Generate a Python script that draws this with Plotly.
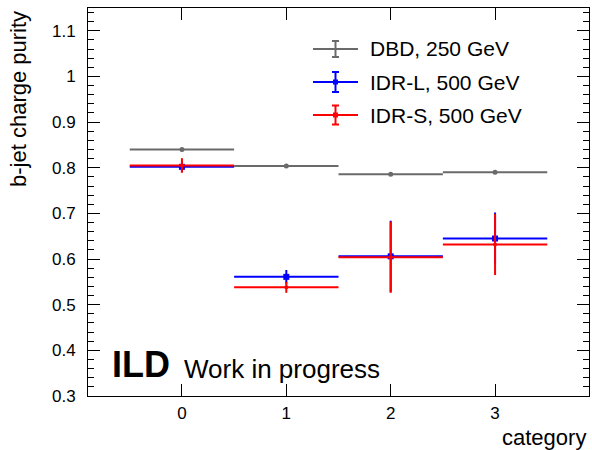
import plotly.graph_objects as go

# ---- data ----
categories = [0, 1, 2, 3]
bin_half_width = [0.5, 0.5, 0.5, 0.5]

dbd_250 = [0.840, 0.804, 0.786, 0.790]
dbd_250_err = [0.002, 0.002, 0.002, 0.002]

idrl_500 = [0.802, 0.561, 0.606, 0.645]
idrl_500_err = [0.011, 0.015, 0.078, 0.057]

idrs_500 = [0.805, 0.538, 0.604, 0.632]
idrs_500_err = [0.016, 0.012, 0.078, 0.067]

y_ticks = [0.3, 0.4, 0.5, 0.6, 0.7, 0.8, 0.9, 1.0, 1.1]
y_tick_labels = ["0.3", "0.4", "0.5", "0.6", "0.7", "0.8", "0.9", "1", "1.1"]
x_ticks = [0, 1, 2, 3]

series = [
    ("DBD, 250 GeV", dbd_250, dbd_250_err, "#6a6a6a", "circle", 5),
    ("IDR-L, 500 GeV", idrl_500, idrl_500_err, "#0000ff", "square", 6),
    ("IDR-S, 500 GeV", idrs_500, idrs_500_err, "#ff0000", "circle", 4),
]

W, H = 592, 450
L, R, T, B = 88, 589, 8, 396


def px(x):
    return (x - L) / (R - L)


def py(y):
    return (B - y) / (B - T)


fig = go.Figure()
for name, vals, errs, col, sym, ms in series:
    fig.add_trace(go.Scatter(
        x=categories, y=vals, mode="markers", name=name,
        marker=dict(color=col, symbol=sym, size=ms),
        error_x=dict(type="data", array=bin_half_width, color=col, thickness=2, width=0),
        error_y=dict(type="data", array=errs, color=col, thickness=2, width=0),
        showlegend=False,
    ))

# ---- custom legend (ROOT style glyphs) ----
shapes = []
annotations = []
rows = [49, 82, 115]
bar_half = [8, 10, 9.5]
for (name, vals, errs, col, sym, ms), ry, bh in zip(series, rows, bar_half):
    shapes.append(dict(type="line", xref="paper", yref="paper",
                       x0=px(313), x1=px(358), y0=py(ry), y1=py(ry),
                       line=dict(color=col, width=2)))
    shapes.append(dict(type="line", xref="paper", yref="paper",
                       x0=px(335.5), x1=px(335.5), y0=py(ry - bh), y1=py(ry + bh),
                       line=dict(color=col, width=2)))
    for cy in (ry - bh, ry + bh):
        shapes.append(dict(type="line", xref="paper", yref="paper",
                           x0=px(332), x1=px(339), y0=py(cy), y1=py(cy),
                           line=dict(color=col, width=2)))
    if name != "DBD, 250 GeV":
        s = 2.5
        shapes.append(dict(type="rect", xref="paper", yref="paper",
                           x0=px(335.5 - s), x1=px(335.5 + s), y0=py(ry - s), y1=py(ry + s),
                           fillcolor=col, line=dict(width=0)))
    annotations.append(dict(text=name, xref="paper", yref="paper",
                            x=px(368), y=py(ry), xanchor="left", yanchor="middle",
                            showarrow=False,
                            font=dict(family="Liberation Sans, Arial", size=21, color="black")))

annotations.append(dict(text="<b>ILD</b>", xref="paper", yref="paper",
                        x=px(110), y=py(364), xanchor="left", yanchor="middle",
                        showarrow=False,
                        font=dict(family="Liberation Sans, Arial", size=36, color="black")))
annotations.append(dict(text="Work in progress", xref="paper", yref="paper",
                        x=px(182), y=py(369), xanchor="left", yanchor="middle",
                        showarrow=False,
                        font=dict(family="Liberation Sans, Arial", size=26, color="black")))
annotations.append(dict(text="b-jet charge purity", xref="paper", yref="paper",
                        x=px(18), y=py(9), xanchor="center", yanchor="top", textangle=-90,
                        showarrow=False,
                        font=dict(family="Liberation Sans, Arial", size=22, color="black")))
annotations.append(dict(text="category", xref="paper", yref="paper",
                        x=px(588), y=py(437), xanchor="right", yanchor="middle",
                        showarrow=False,
                        font=dict(family="Liberation Sans, Arial", size=22, color="black")))

axis_common = dict(showline=True, linecolor="black", linewidth=1, mirror="ticks",
                   ticks="inside", tickcolor="black", showgrid=False, zeroline=False,
                   tickfont=dict(family="Liberation Sans, Arial", size=17, color="black"))

fig.update_layout(
    width=W, height=H,
    margin=dict(l=L, r=W - R, t=T, b=H - B),
    paper_bgcolor="white", plot_bgcolor="white",
    xaxis=dict(range=[-0.9, 3.9], tickvals=x_ticks, ticklen=12, tickwidth=1,
               ticklabelstandoff=2, **axis_common),
    yaxis=dict(range=[0.3, 1.15], tickvals=y_ticks, ticktext=y_tick_labels,
               ticklen=12, tickwidth=1, ticklabelstandoff=8,
               minor=dict(ticks="inside", ticklen=6, dtick=0.02, tick0=0.3, tickcolor="black",
                          showgrid=False),
               **axis_common),
    shapes=shapes,
    annotations=annotations,
    showlegend=False,
)

fig.write_html("out.html")
